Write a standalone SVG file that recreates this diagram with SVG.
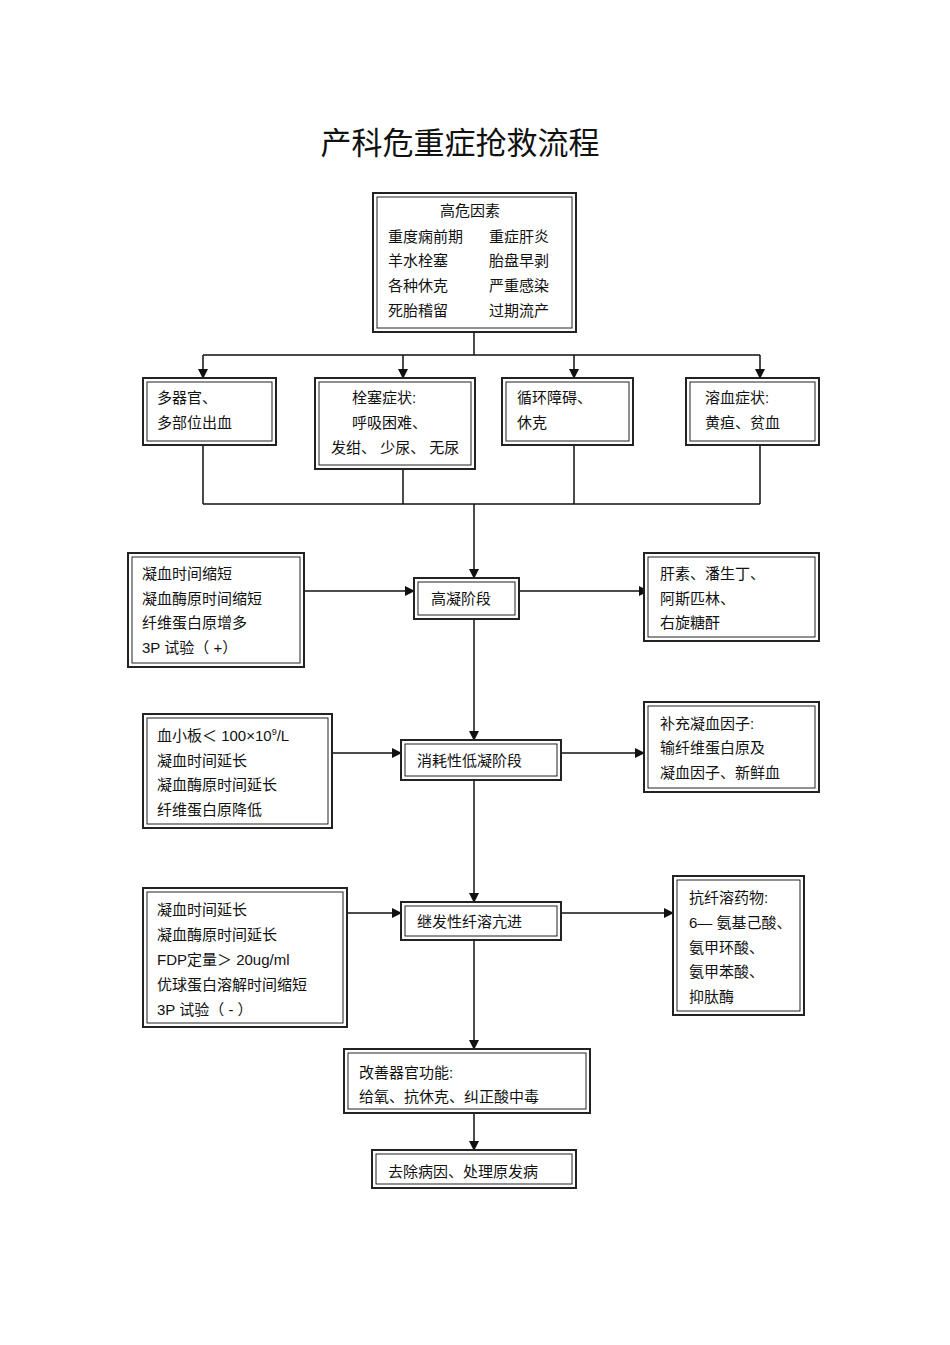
<svg xmlns="http://www.w3.org/2000/svg" width="950" height="1345" viewBox="0 0 950 1345">
<style>
text{font-family:"Liberation Sans","Noto Sans CJK SC",sans-serif;font-size:15px;fill:#111}
.o{fill:#fff;stroke:#222;stroke-width:2}
.i{fill:none;stroke:#222;stroke-width:1}
.c{fill:none;stroke:#111;stroke-width:1.5}
</style>
<defs><marker id="a" markerWidth="10" markerHeight="10" refX="9" refY="5" orient="auto" markerUnits="userSpaceOnUse"><path d="M0,0L10,5L0,10z" fill="#111"/></marker></defs>
<rect width="950" height="1345" fill="#fff"/>
<text x="460" y="154" text-anchor="middle" style="font-size:31px">产科危重症抢救流程</text>
<g id="connectors">
<path class="c" d="M474,332V355M203,355H760"/>
<path class="c" marker-end="url(#a)" d="M203,355V378"/>
<path class="c" marker-end="url(#a)" d="M403,355V378"/>
<path class="c" marker-end="url(#a)" d="M574,355V378"/>
<path class="c" marker-end="url(#a)" d="M760,355V378"/>
<path class="c" d="M203,445V504M403,469V504M574,445V504M760,445V504M203,504H760"/>
<path class="c" marker-end="url(#a)" d="M474,504V578"/>
<path class="c" marker-end="url(#a)" d="M304,591H414"/>
<path class="c" marker-end="url(#a)" d="M519,591H648"/>
<path class="c" marker-end="url(#a)" d="M474,619V740"/>
<path class="c" marker-end="url(#a)" d="M332,753H401"/>
<path class="c" marker-end="url(#a)" d="M561,753H644"/>
<path class="c" marker-end="url(#a)" d="M474,780V902"/>
<path class="c" marker-end="url(#a)" d="M347,913H401"/>
<path class="c" marker-end="url(#a)" d="M561,913H673"/>
<path class="c" marker-end="url(#a)" d="M474,940V1049"/>
<path class="c" marker-end="url(#a)" d="M474,1113V1150"/>
</g>
<g id="n1"><rect class="o" x="373" y="193" width="203" height="139"/><rect class="i" x="377" y="197" width="195" height="131"/>
<text x="470" y="216" text-anchor="middle">高危因素</text>
<text x="388" y="242">重度痫前期</text><text x="489" y="242">重症肝炎</text>
<text x="388" y="266">羊水栓塞</text><text x="489" y="266">胎盘早剥</text>
<text x="388" y="291">各种休克</text><text x="489" y="291">严重感染</text>
<text x="388" y="316">死胎稽留</text><text x="489" y="316">过期流产</text></g>
<g id="n2"><rect class="o" x="143" y="378" width="133" height="67"/><rect class="i" x="147" y="382" width="125" height="59"/>
<text x="157" y="403">多器官、</text><text x="157" y="428">多部位出血</text></g>
<g id="n3"><rect class="o" x="315" y="378" width="160" height="91"/><rect class="i" x="319" y="382" width="152" height="83"/>
<text x="352" y="403">栓塞症状:</text><text x="352" y="428">呼吸困难、</text><text x="331" y="453">发绀、 少尿、 无尿</text></g>
<g id="n4"><rect class="o" x="502" y="378" width="131" height="67"/><rect class="i" x="506" y="382" width="123" height="59"/>
<text x="517" y="403">循环障碍、</text><text x="517" y="428">休克</text></g>
<g id="n5"><rect class="o" x="686" y="378" width="133" height="67"/><rect class="i" x="690" y="382" width="125" height="59"/>
<text x="705" y="403">溶血症状:</text><text x="705" y="428">黄疸、贫血</text></g>
<g id="n6"><rect class="o" x="414" y="578" width="105" height="41"/><rect class="i" x="418" y="582" width="97" height="33"/>
<text x="431" y="604">高凝阶段</text></g>
<g id="n7"><rect class="o" x="128" y="553" width="176" height="114"/><rect class="i" x="132" y="557" width="168" height="106"/>
<text x="142" y="579">凝血时间缩短</text><text x="142" y="604">凝血酶原时间缩短</text><text x="142" y="628">纤维蛋白原增多</text><text x="142" y="653">3P 试验（ +）</text></g>
<g id="n8"><rect class="o" x="644" y="553" width="175" height="88"/><rect class="i" x="648" y="557" width="167" height="80"/>
<text x="660" y="579">肝素、潘生丁、</text><text x="660" y="604">阿斯匹林、</text><text x="660" y="628">右旋糖酐</text></g>
<g id="n9"><rect class="o" x="401" y="740" width="160" height="40"/><rect class="i" x="405" y="744" width="152" height="32"/>
<text x="417" y="766">消耗性低凝阶段</text></g>
<g id="n10"><rect class="o" x="143" y="714" width="189" height="114"/><rect class="i" x="147" y="718" width="181" height="106"/>
<text x="157" y="741">血小板＜  100×10<tspan dy="-6" style="font-size:9px">9</tspan><tspan dy="6">/L</tspan></text><text x="157" y="766">凝血时间延长</text><text x="157" y="790">凝血酶原时间延长</text><text x="157" y="815">纤维蛋白原降低</text></g>
<g id="n11"><rect class="o" x="644" y="702" width="175" height="90"/><rect class="i" x="648" y="706" width="167" height="82"/>
<text x="660" y="729">补充凝血因子:</text><text x="660" y="753">输纤维蛋白原及</text><text x="660" y="778">凝血因子、新鲜血</text></g>
<g id="n12"><rect class="o" x="401" y="902" width="160" height="38"/><rect class="i" x="405" y="906" width="152" height="30"/>
<text x="417" y="927">继发性纤溶亢进</text></g>
<g id="n13"><rect class="o" x="143" y="888" width="204" height="139"/><rect class="i" x="147" y="892" width="196" height="131"/>
<text x="157" y="915">凝血时间延长</text><text x="157" y="940">凝血酶原时间延长</text><text x="157" y="965">FDP定量＞  20ug/ml</text><text x="157" y="990">优球蛋白溶解时间缩短</text><text x="157" y="1015">3P 试验（ - ）</text></g>
<g id="n14"><rect class="o" x="673" y="876" width="131" height="139"/><rect class="i" x="677" y="880" width="123" height="131"/>
<text x="689" y="903">抗纤溶药物:</text><text x="689" y="928">6— 氨基己酸、</text><text x="689" y="953">氨甲环酸、</text><text x="689" y="977">氨甲苯酸、</text><text x="689" y="1002">抑肽酶</text></g>
<g id="n15"><rect class="o" x="344" y="1049" width="246" height="64"/><rect class="i" x="348" y="1053" width="238" height="56"/>
<text x="359" y="1078">改善器官功能:</text><text x="359" y="1102">给氧、抗休克、纠正酸中毒</text></g>
<g id="n16"><rect class="o" x="372" y="1150" width="204" height="38"/><rect class="i" x="376" y="1154" width="196" height="30"/>
<text x="388" y="1177">去除病因、处理原发病</text></g>
</svg>
